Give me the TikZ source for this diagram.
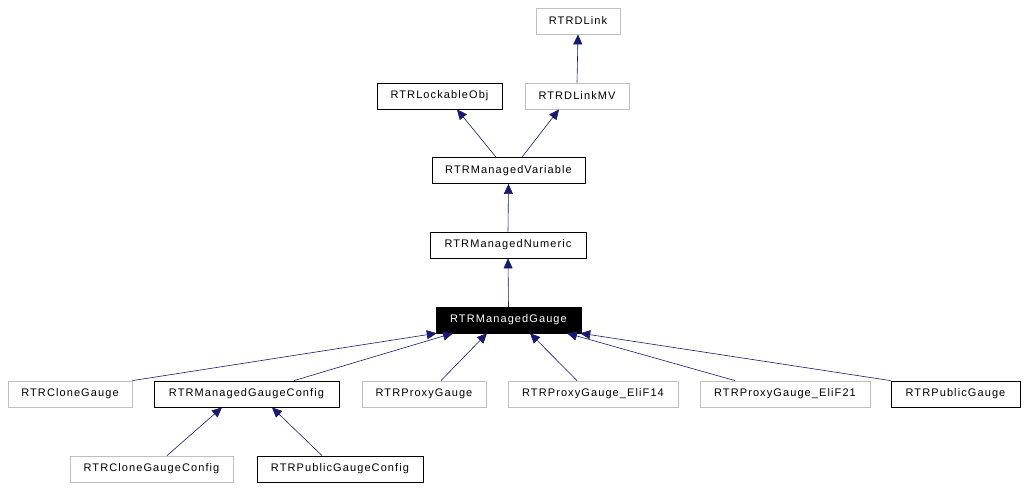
\documentclass[tikz,border=0pt]{standalone}
\usepackage{fontspec}
\newfontfamily\dxfont[LetterSpace=10]{Liberation Sans}
\usetikzlibrary{arrows.meta}

\begin{document}
\begin{tikzpicture}[
      x=1pt, y=-1pt,
      every node/.style={font=\dxfont\fontsize{11}{13}\selectfont},
      ext/.style={draw=black!25, line width=0.8pt, fill=white, minimum height=26pt, inner sep=0pt},
      cls/.style={draw=black, line width=0.8pt, fill=white, minimum height=26pt, inner sep=0pt},
      cur/.style={draw=black, fill=black, text=white, minimum height=26pt, inner sep=0pt},
      arrow/.style={-{Triangle[length=10pt,width=9pt]}, draw={rgb,255:red,25;green,25;blue,112}, line width=0.6pt},
    ]
    \useasboundingbox[fill=white] (0,0) rectangle (1026,490);

    % Base classes at top
    \node[ext, minimum width=84pt] (dlink) at (578,21) {RTRDLink};
    \node[cls, minimum width=125pt] (lock) at (439.5,96) {RTRLockableObj};
    \node[ext, minimum width=104pt] (dlinkmv) at (577,96) {RTRDLinkMV};
    \node[cls, minimum width=153pt] (mvar) at (508.5,170.5) {RTRManagedVariable};
    \node[cls, minimum width=156pt] (mnum) at (508,245) {RTRManagedNumeric};

    % Documented class
    \node[cur, minimum width=145pt] (mgauge) at (508.5,320) {RTRManagedGauge};

    % Derived classes
    \node[ext, minimum width=124pt] (clone) at (70,394) {RTRCloneGauge};
    \node[cls, minimum width=185pt] (mgconf) at (246.5,394) {RTRManagedGaugeConfig};
    \node[ext, minimum width=124pt] (proxy) at (424,394) {RTRProxyGauge};
    \node[ext, minimum width=170pt] (elif14) at (593,394) {RTRProxyGauge\_EliF14};
    \node[ext, minimum width=170pt] (elif21) at (785,394) {RTRProxyGauge\_EliF21};
    \node[cls, minimum width=129pt] (pubg) at (955.5,394) {RTRPublicGauge};
    \node[ext, minimum width=163pt] (cloneconf) at (151.5,469) {RTRCloneGaugeConfig};
    \node[cls, minimum width=166pt] (pubconf) at (340,469) {RTRPublicGaugeConfig};

    % Arrows
    \draw[arrow] (dlinkmv.north) -- (dlink.south);
    \draw[arrow] ([xshift=-12.5pt]mvar.north) -- ([xshift=17.5pt]lock.south);
    \draw[arrow] ([xshift=13.5pt]mvar.north) -- ([xshift=-18pt]dlinkmv.south);
    \draw[arrow] (mnum.north) -- (mvar.south);
    \draw[arrow] (mgauge.north) -- (mnum.south);
    \draw[arrow] (clone.north east) -- ([xshift=1pt]mgauge.south west);
    \draw[arrow] ([xshift=47.5pt]mgconf.north) -- ([xshift=-55.5pt]mgauge.south);
    \draw[arrow] ([xshift=17pt]proxy.north) -- ([xshift=-21.5pt]mgauge.south);
    \draw[arrow] ([xshift=-16pt]elif14.north) -- ([xshift=21.5pt]mgauge.south);
    \draw[arrow] ([xshift=-50pt]elif21.north) -- ([xshift=58.5pt]mgauge.south);
    \draw[arrow] (pubg.north west) -- ([xshift=-1pt]mgauge.south east);
    \draw[arrow] ([xshift=15.5pt]cloneconf.north) -- ([xshift=-24.5pt]mgconf.south);
    \draw[arrow] ([xshift=-18pt]pubconf.north) -- ([xshift=25.5pt]mgconf.south);
  \end{tikzpicture}
\end{document}
